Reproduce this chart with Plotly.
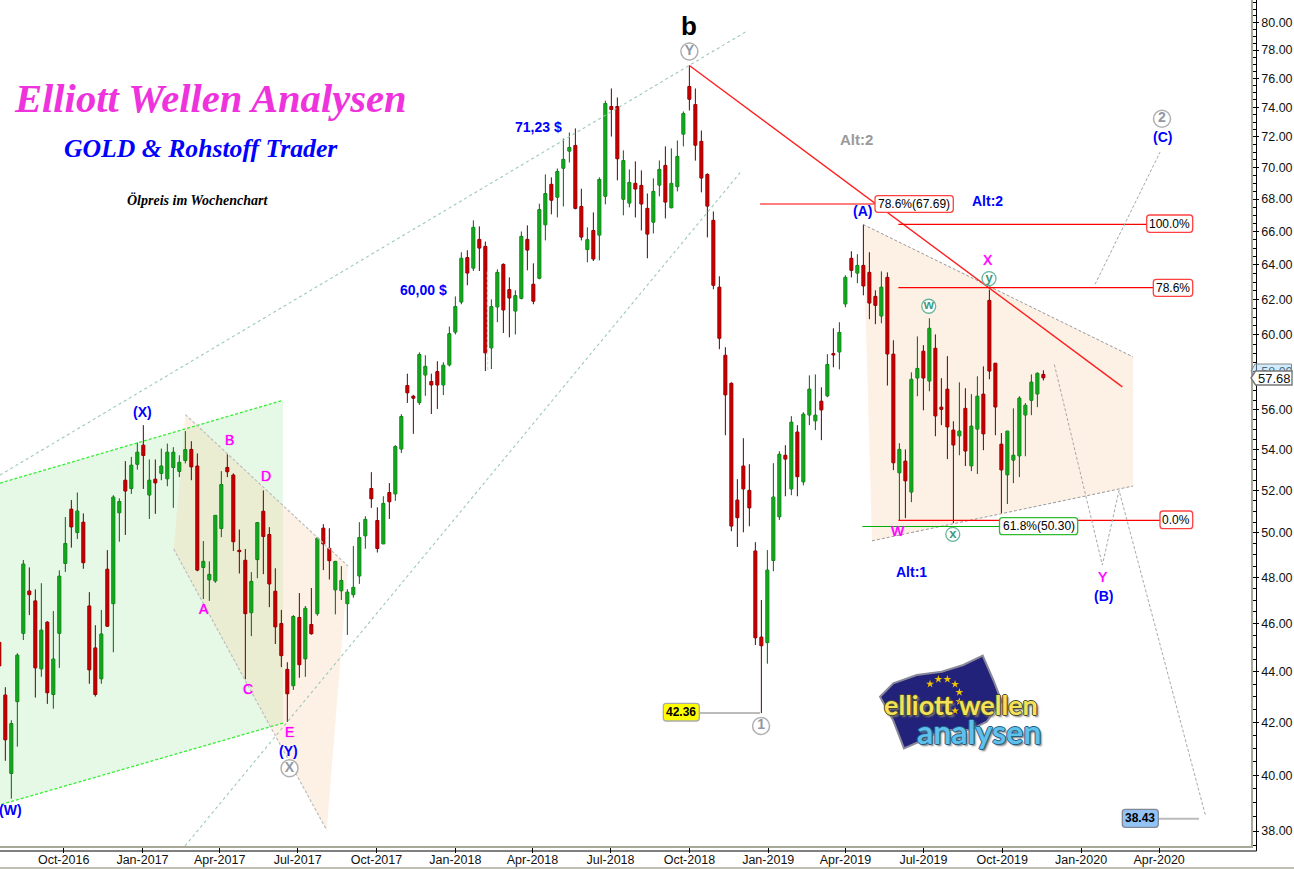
import math
import pandas as pd
import plotly.graph_objects as go

# ---------- candle data (weekly, first candle sits one week before week 0) ----------
highs = [45.52,
 43.38,42.08,44.76,48.77,48.44,47.47,47.74,46.10,46.53,48.31,
 50.74,51.54,51.90,50.91,47.35,45.93,46.58,49.22,51.77,51.62,
 53.42,53.63,54.34,55.22,53.50,53.50,54.04,54.29,54.11,53.71,
 54.92,54.41,53.80,49.63,48.71,50.83,52.93,53.76,52.82,50.16,
 49.27,48.23,50.50,52.00,50.27,48.40,46.58,44.39,46.36,47.31,
 46.75,47.53,49.82,50.41,50.22,48.73,48.50,47.48,49.40,50.50,
 50.78,52.88,51.20,51.72,52.35,54.21,55.78,57.90,56.78,59.05,
 58.89,57.90,58.57,58.51,60.47,62.17,64.75,64.87,66.68,66.31,
 65.39,62.00,63.74,64.09,63.27,62.52,66.00,66.37,64.09,67.71,
 69.56,69.37,69.94,71.90,72.30,72.57,68.65,66.25,67.17,69.37,
 74.45,75.29,74.67,71.12,69.88,70.40,69.82,68.35,69.31,70.46,
 71.38,71.25,71.77,73.71,76.90,75.29,72.43,69.63,67.23,63.33,
 59.33,57.44,52.54,54.56,53.27,49.58,47.01,49.22,53.32,53.91,
 54.21,55.68,55.22,55.88,57.81,57.86,57.18,58.95,60.37,60.71,
 63.39,64.81,64.63,66.43,64.75,62.52,63.62,63.56,59.71,54.31,
 54.00,57.97,59.92,59.44,60.93,60.03,57.66,58.84,55.42,57.44,
 57.13,56.82,57.76,58.29,62.56,58.46,54.82,54.92,56.08,56.71,
 56.35,57.86,57.97,58.08]
lows = [43.47,
 40.54,39.15,41.07,45.31,46.36,42.97,43.80,42.72,42.53,44.16,
 48.24,49.33,49.72,48.38,43.52,43.01,43.52,45.86,44.80,49.60,
 49.91,51.83,53.00,52.07,50.65,50.89,52.49,52.20,51.17,52.64,
 53.31,52.49,48.27,47.05,46.97,47.76,49.81,52.64,49.18,48.17,
 43.70,45.47,47.96,48.14,46.70,45.14,44.19,42.02,43.27,43.76,
 43.80,45.53,46.33,48.32,47.90,46.39,47.01,45.52,47.11,47.71,
 49.28,51.17,49.11,49.50,50.65,51.50,53.82,56.36,54.78,56.26,
 56.73,55.79,56.05,56.77,58.29,60.03,61.72,62.81,63.64,63.64,
 58.04,58.15,60.71,60.11,59.87,60.03,62.00,63.68,61.72,63.16,
 65.46,67.05,66.86,67.54,70.33,67.36,65.46,64.15,64.23,64.27,
 67.67,72.03,69.18,66.99,67.48,66.86,66.06,64.39,65.88,68.17,
 66.80,67.42,68.48,71.38,73.78,70.45,68.42,65.64,62.58,59.22,
 54.71,50.08,49.36,50.03,50.31,45.10,42.36,44.33,48.27,50.60,
 51.72,51.77,51.72,52.24,55.22,54.97,54.46,56.66,58.24,58.13,
 61.55,63.27,62.93,62.23,60.88,60.60,60.65,57.27,52.98,50.60,
 50.69,51.44,56.71,55.98,56.97,54.66,55.22,53.52,50.46,53.71,
 53.18,52.93,52.79,53.96,57.60,54.71,50.93,51.35,52.35,52.64,
 53.66,55.73,56.14,57.54]
body_top = [45.21,
 43.07,41.95,44.68,48.59,47.40,46.97,45.72,46.06,44.52,48.05,
 49.52,51.11,51.02,50.50,46.75,44.98,45.56,48.36,51.68,51.47,
 52.49,53.22,53.86,54.21,52.49,52.54,53.18,53.86,53.86,53.36,
 53.99,54.00,53.18,48.71,48.13,50.82,52.28,53.11,52.74,49.21,
 48.76,47.82,50.48,51.01,49.93,47.39,46.00,44.10,46.30,46.26,
 46.65,45.96,49.76,50.22,49.30,48.71,47.86,47.35,47.56,49.79,
 50.63,52.09,50.58,51.38,51.90,54.14,55.66,57.27,56.71,58.93,
 58.29,57.48,58.01,58.35,60.07,61.59,64.39,64.43,66.25,65.52,
 65.10,61.59,63.56,64.03,62.56,62.21,65.70,65.52,62.87,67.34,
 68.34,68.93,69.75,70.53,71.31,71.44,67.54,65.50,66.06,69.24,
 74.25,74.05,74.05,70.45,69.05,68.99,68.86,67.42,68.48,69.88,
 70.14,68.99,70.72,73.57,75.43,74.18,71.71,69.56,66.68,62.70,
 58.89,57.39,51.54,53.18,52.00,49.18,45.43,48.32,51.68,53.76,
 53.71,55.37,54.87,55.78,57.08,55.73,56.45,58.39,58.98,60.14,
 63.27,64.39,63.97,63.97,63.56,62.17,62.70,63.27,58.95,54.00,
 53.42,57.60,58.18,59.11,60.37,59.27,56.14,57.08,54.97,54.92,
 56.08,55.17,56.71,56.82,61.94,58.46,54.26,54.92,53.71,56.61,
 56.24,57.45,57.92,57.86]
body_bot = [44.24,
 41.33,40.07,42.81,45.59,47.24,44.16,44.12,43.16,43.09,45.59,
 48.62,50.28,50.02,48.65,44.08,43.09,43.72,45.89,46.85,50.94,
 51.97,52.09,53.27,53.70,51.78,52.36,52.82,52.56,53.11,52.92,
 53.45,53.14,48.32,48.44,47.89,47.84,50.21,52.90,49.60,49.15,
 46.42,46.46,48.79,49.84,47.71,45.86,44.66,43.12,43.44,44.29,
 44.53,45.57,46.42,49.50,48.74,47.45,47.41,46.85,47.24,48.06,
 49.87,51.60,49.29,49.50,51.46,51.83,54.02,56.89,56.61,56.38,
 57.83,57.30,57.30,57.30,58.37,60.16,61.85,63.52,63.81,65.00,
 59.02,59.29,61.57,61.40,62.08,61.34,62.06,64.88,61.90,63.22,
 66.41,67.93,68.12,69.96,71.07,67.42,65.66,64.91,64.35,65.78,
 68.18,73.85,70.57,67.99,67.75,68.63,67.69,65.84,66.57,68.88,
 67.81,67.46,68.78,72.19,74.55,71.46,69.33,67.56,62.81,59.82,
 56.78,50.32,50.71,52.07,51.17,45.40,45.07,45.20,48.75,50.75,
 53.52,52.07,52.66,52.41,55.74,55.44,56.00,56.73,58.91,59.07,
 61.74,63.68,63.52,62.77,61.79,61.66,61.06,58.96,53.34,52.85,
 52.46,51.92,57.67,57.67,57.51,55.69,56.03,55.13,54.22,54.68,
 53.92,53.19,55.02,54.78,58.04,56.15,52.99,52.75,53.47,53.68,
 55.74,56.50,56.83,57.68]
direction = ("D" "DUUUDDUDUU" "UDUDDDUDUU" "DUUDUDUUUU" "UDDUUUUDDD" "DUUDDDDDUD"
             "UDUDDUUUUU" "UDDUDUUDDU" "UDDUUUUDUD" "DUUDDUUDDU" "UDUUUDDUDU"
             "UDDUUDDDUU" "DUUUDDDDDD" "DDDDDDDUUU" "DUDUUUDUDU" "UDUDDDUDDU"
             "DUUDUDDDDU" "DUUDDDDUUU" "UUUD")

y_ticks = list(range(38, 82, 2))
y_minor = [37.5 + 0.5 * k for k in range(0, 89) if (37.5 + 0.5 * k) % 2 != 0]
x_tick_dates = ["2016-10-01", "2017-01-01", "2017-04-01", "2017-07-01", "2017-10-01", "2018-01-01",
                "2018-04-01", "2018-07-01", "2018-10-01", "2019-01-01", "2019-04-01", "2019-07-01",
                "2019-10-01", "2020-01-01", "2020-04-01"]
x_tick_text = ["Oct-2016", "Jan-2017", "Apr-2017", "Jul-2017", "Oct-2017", "Jan-2018", "Apr-2018", "Jul-2018",
               "Oct-2018", "Jan-2019", "Apr-2019", "Jul-2019", "Oct-2019", "Jan-2020", "Apr-2020"]

# ---------- drawn objects: positions as (week number, price) ----------
green_zone_w = [-0.89, 46.28, 46.28, -0.89]
green_zone_p = [52.35, 56.50, 41.97, 38.93]
peach_left_w = [30.0, 57.11, 53.56, 28.06]
peach_left_p = [55.76, 48.50, 38.03, 49.27]
peach_right_w = [142.94, 187.95, 187.95, 144.44]
peach_right_p = [66.43, 58.80, 52.21, 49.64]
channel_up_w, channel_up_p = [-0.89, 123.78], [52.74, 79.42]
channel_lo_w, channel_lo_p = [29.94, 122.45], [37.48, 69.67]
trend_w, trend_p = [114.0, 186.16], [76.9, 57.20]
fib_lines = [([125.78, 144.9], 67.69, "#FF0000"), ([148.83, 190.23], 66.43, "#FF0000"),
             ([148.83, 191.28], 62.68, "#FF0000"), ([148.83, 192.44], 50.58, "#FF0000"),
             ([142.83, 165.78], 50.30, "#00B000")]
grey_hlines = [([115.61, 125.78], 42.36), ([192.11, 198.94], 38.43)]
proj_a_w, proj_a_p = [181.61, 192.44], [62.87, 71.0]
proj_b_w, proj_b_p = [174.83, 182.83, 185.61, 200.06], [58.39, 48.55, 52.0, 38.51]
marker_w, marker_p = [80.37, 80.37], [63.6, 58.0]
star_w = [154.11, 155.5, 157.0, 158.28, 159.0, 159.0, 158.28]
star_p = [43.51, 43.70, 43.70, 43.50, 43.18, 42.81, 42.45]

blue_text = [("(X)", 22.83, 55.89), ("(W)", 0.83, 38.73), ("(Y)", 47.16, 40.92), ("(A)", 142.9, 67.23),
             ("(B)", 182.94, 47.19), ("(C)", 192.77, 71.97), ("71,23 $", 88.89, 72.64), ("60,00 $", 69.66, 62.52),
             ("Alt:2", 163.71, 67.85), ("Alt:1", 150.94, 48.23)]
magenta_text = [("A", 33.16, 46.61), ("B", 37.39, 54.46), ("C", 40.5, 43.31), ("D", 43.4, 52.67), ("E", 47.28, 41.63),
                ("X", 163.78, 64.27), ("W", 148.78, 50.08), ("Y", 182.94, 48.0)]
grey_circles = [("Y", 114.0, 77.89), ("X", 47.36, 40.26), ("1", 125.95, 41.86), ("2", 192.77, 73.22)]
green_circles = [("w", 153.89, 61.61), ("y", 163.94, 63.2), ("x", 157.9, 49.94)]
# text, frame left/right/top/bottom in page pixels, border, fill, bold
box_labels = [("78.6%(67.69)", 875, 953.3, 195.7, 212.3, "#FF4040", "#FFFFFF", False),
              ("100.0%", 1146.7, 1192.7, 215, 232.3, "#FF4040", "#FFFFFF", False),
              ("78.6%", 1153.3, 1192.7, 279.3, 296.3, "#FF4040", "#FFFFFF", False),
              ("0.0%", 1160, 1192.7, 511, 528.7, "#FF4040", "#FFFFFF", False),
              ("61.8%(50.30)", 999.5, 1077.7, 517.7, 534.7, "#30BB30", "#FFFFFF", False),
              ("42.36", 663.3, 699.3, 703.3, 721, "#AAAAAA", "#FFFF00", True),
              ("38.43", 1122.3, 1158.3, 809.3, 827.3, "#808898", "#93C2F5", True)]

# ---------- scales ----------
BASE = pd.Timestamp("2016-07-25")
FIRST_WEEK = -1
PLOT_W, PLOT_H = 1251, 846


def wk(i):
    return BASE + pd.to_timedelta(round(i * 7 * 86400), unit="s")


def ws(i):
    return wk(i).strftime("%Y-%m-%d %H:%M:%S")


def px(x):
    return x / PLOT_W


def py(y):
    return 1 - y / PLOT_H


weeks = list(range(FIRST_WEEK, FIRST_WEEK + len(highs)))
dates = [ws(i) for i in weeks]
opens = [b if d == "U" else t for d, t, b in zip(direction, body_top, body_bot)]
closes = [t if d == "U" else b for d, t, b in zip(direction, body_top, body_bot)]

fig = go.Figure()
# dark wicks and outlines
fig.add_trace(go.Candlestick(
    x=dates, open=opens, high=highs, low=lows, close=closes,
    increasing=dict(line=dict(color="#0B5E10", width=1), fillcolor="#12A01C"),
    decreasing=dict(line=dict(color="#5E0008", width=1), fillcolor="#BE0000"),
    showlegend=False, hoverinfo="skip"))
# bright body fill on top of the outlines
fig.add_trace(go.Candlestick(
    x=dates, open=opens, high=body_top, low=body_bot, close=closes,
    increasing=dict(line=dict(color="#12A01C", width=0), fillcolor="#14A31E"),
    decreasing=dict(line=dict(color="#BE0000", width=0), fillcolor="#C00000"),
    showlegend=False, hoverinfo="skip"))


def line(w, p, color, width=1.0, dash=None):
    fig.add_trace(go.Scatter(x=[ws(i) for i in w], y=p, mode="lines", showlegend=False, hoverinfo="skip",
                             line=dict(color=color, width=width, dash=dash)))


def poly_path(w, p):
    pts = [f"{wk(i).strftime('%Y-%m-%d_%H:%M:%S')},{v}" for i, v in zip(w, p)]
    return "M" + " L".join(pts) + " Z"


def page_path(points):
    return "M" + " L".join(f"{px(x)},{py(y)}" for x, y in points) + " Z"


def round_box(x0, x1, y0, y1, r=3):
    return (f"M{px(x0 + r)},{py(y0)} L{px(x1 - r)},{py(y0)} Q{px(x1)},{py(y0)} {px(x1)},{py(y0 + r)} "
            f"L{px(x1)},{py(y1 - r)} Q{px(x1)},{py(y1)} {px(x1 - r)},{py(y1)} "
            f"L{px(x0 + r)},{py(y1)} Q{px(x0)},{py(y1)} {px(x0)},{py(y1 - r)} "
            f"L{px(x0)},{py(y0 + r)} Q{px(x0)},{py(y0)} {px(x0 + r)},{py(y0)} Z")


shapes = [
    dict(type="path", path=poly_path(green_zone_w, green_zone_p), xref="x", yref="y", layer="below",
         fillcolor="#E6F9E6", line=dict(width=0)),
    dict(type="path", path=poly_path(peach_left_w, peach_left_p), xref="x", yref="y", layer="below",
         fillcolor="rgba(250,210,170,0.3)", line=dict(width=0)),
    dict(type="path", path=poly_path(peach_right_w, peach_right_p), xref="x", yref="y", layer="below",
         fillcolor="rgba(250,210,170,0.3)", line=dict(width=0)),
    # chart frame details beside the axes
    dict(type="line", xref="paper", yref="paper", x0=0, x1=px(1256.5), y0=py(851), y1=py(851),
         line=dict(color="#000000", width=1)),
    dict(type="line", xref="paper", yref="paper", x0=px(1256.5), x1=px(1256.5), y0=py(0), y1=py(851),
         line=dict(color="#000000", width=1)),
    dict(type="line", xref="paper", yref="paper", x0=0, x1=px(1294), y0=py(868), y1=py(868),
         line=dict(color="#A8A898", width=1.5)),
    # logo flag
    dict(type="path", xref="paper", yref="paper", layer="below", fillcolor="#22227A",
         line=dict(color="#8A8A9A", width=2),
         path=page_path([(880, 696.7), (893.3, 683.3), (916.7, 675), (941.7, 671.7), (963.3, 665), (982.7, 655.7),
                         (993.3, 680), (1001.7, 701.7), (986.7, 721.7), (970, 730), (943, 730), (923, 740),
                         (904, 748.3), (893, 720)])),
    # axis price tags: last close over the hidden 58.00 level
    dict(type="path", xref="paper", yref="paper", fillcolor="rgba(150,210,250,0.45)", line=dict(color="#888888", width=1),
         path=page_path([(1251, 371), (1255, 364), (1291.5, 364), (1291.5, 378), (1255, 378)])),
    dict(type="path", xref="paper", yref="paper", fillcolor="#FFFFFF", line=dict(color="#777777", width=1.4),
         path=page_path([(1251, 378), (1255.5, 371), (1292, 371), (1292, 385), (1255.5, 385)])),
]
for t, x0, x1, y0, y1, border, bg, bold in box_labels:
    shapes.append(dict(type="path", xref="paper", yref="paper", path=round_box(x0, x1, y0, y1),
                       fillcolor=bg, line=dict(color=border, width=1.3)))

# dashed edges of the shaded zones
line(green_zone_w[:2], green_zone_p[:2], "#33EE33", 1.3, "3px,2px")
line(green_zone_w[2:], green_zone_p[2:], "#33EE33", 1.3, "3px,2px")
line(peach_left_w[:2], peach_left_p[:2], "#BDBDBD", 1.2, "3px,2px")
line(peach_left_w[3:1:-1], peach_left_p[3:1:-1], "#BDBDBD", 1.2, "3px,2px")
line(peach_right_w[:2], peach_right_p[:2], "#999999", 1, "3px,2px")
line(peach_right_w[3:1:-1], peach_right_p[3:1:-1], "#999999", 1, "3px,2px")
line(channel_up_w, channel_up_p, "#9CC9B5", 1.1, "3px,3px")
line(channel_lo_w, channel_lo_p, "#9CC9B5", 1.1, "3px,3px")
line(trend_w, trend_p, "#FF2020", 1.4)
for w, p, c in fib_lines:
    line(w, [p, p], c, 1.2)
for w, p in grey_hlines:
    line(w, [p, p], "#BBBBBB", 2)
line(proj_a_w, proj_a_p, "#A8A8A8", 1, "3px,2px")
line(proj_b_w, proj_b_p, "#A8A8A8", 1, "3px,2px")
line(marker_w, marker_p, "#E2E2E2", 1.5, "3px,2px")

# circled wave labels
for items, size, lw, col, tcol, fs in [(grey_circles, 17, 1.5, "#B0B0B0", "#8F98A2", 14),
                                       (green_circles, 14, 1.3, "#66B59C", "#3F9A80", 13)]:
    fig.add_trace(go.Scatter(
        x=[ws(i[1]) for i in items], y=[i[2] for i in items], mode="markers+text",
        text=[i[0] for i in items], textposition="middle center",
        textfont=dict(family="Liberation Sans", size=fs, color=tcol, weight="bold"),
        marker=dict(size=size, color="#FFFFFF", line=dict(color=col, width=lw)),
        showlegend=False, hoverinfo="skip"))

# logo stars
fig.add_trace(go.Scatter(x=[ws(i) for i in star_w], y=star_p, mode="markers", showlegend=False, hoverinfo="skip",
                         marker=dict(symbol="star", size=6, color="#F2C200")))

ann = []


def text(t, i, p, size, color, bold=True, family="Liberation Sans", shadow=None):
    f = dict(family=family, size=size, color=color, weight="bold" if bold else "normal")
    if shadow:
        f["shadow"] = shadow
    ann.append(dict(text=t, x=ws(i), y=math.log10(p), xref="x", yref="y", showarrow=False,
                    xanchor="center", yanchor="middle", font=f))


def title(t, x, y, size, color, family="Liberation Serif", style="italic", shadow=None, bold=True):
    f = dict(family=family, size=size, color=color, style=style, weight="bold" if bold else "normal")
    if shadow:
        f["shadow"] = shadow
    ann.append(dict(text=t, x=px(x), y=py(y), xref="paper", yref="paper", showarrow=False,
                    xanchor="center", yanchor="middle", font=f))


for t, i, p in blue_text:
    text(t, i, p, 14, "#0000FF")
for t, i, p in magenta_text:
    text(t, i, p, 14, "#FF00FF", bold=False, shadow="0 0 1px #FF00FF")
text("Alt:2", 141.85, 71.86, 15, "#9A9A9A")
text("b", 113.95, 79.78, 26, "#000000")

for t, x0, x1, y0, y1, border, bg, bold in box_labels:
    ann.append(dict(text=t, x=px((x0 + x1) / 2), y=py((y0 + y1) / 2), xref="paper", yref="paper", showarrow=False,
                    xanchor="center", yanchor="middle",
                    font=dict(family="Liberation Sans", size=12, color="#000000", weight="bold" if bold else "normal")))

title("Elliott Wellen Analysen", 210.5, 98.5, 40.6, "#EE33DD")
title("GOLD &amp; Rohstoff Trader", 201, 148, 25.7, "#0000FF")
title("Ölpreis im Wochenchart", 198, 200, 14, "#000000")

ann.append(dict(text="57.68", x=px(1274), y=py(378), xref="paper", yref="paper", showarrow=False, xanchor="center",
                yanchor="middle", font=dict(family="Liberation Sans", size=13, color="#111111")))

title("elliott wellen", 961, 704, 27, "#F4E35A", family="Lato", style="normal",
      shadow="-1px 0 #4A4A2A, 1px 0 #4A4A2A, 0 1px #4A4A2A, 0 -1px #4A4A2A, 2px 2px 2px #777")
title("analysen", 979, 731, 32, "#5FC0EA", family="Lato", style="normal",
      shadow="-1px 0 #1F5F88, 1px 0 #1F5F88, 0 1px #1F5F88, 0 -1px #1F5F88, 2px 2px 2px #777")

fig.update_layout(
    width=1294, height=869, autosize=False, showlegend=False,
    margin=dict(l=0, r=43, t=0, b=23, pad=0),
    paper_bgcolor="#FFFFFF", plot_bgcolor="#FFFFFF",
    shapes=shapes, annotations=ann, hovermode=False, boxmode="overlay",
    xaxis=dict(type="date", automargin=False, range=[ws(-0.888), ws(207.6)], rangeslider=dict(visible=False),
               tickmode="array", tickvals=x_tick_dates, ticktext=x_tick_text,
               ticks="outside", ticklen=5, tickcolor="#000000", tickwidth=1, ticklabelstandoff=-4,
               showgrid=False, zeroline=False, showline=True, linecolor="#A8A898", linewidth=1.5,
               tickfont=dict(family="Liberation Sans", size=12.5, color="#111111")),
    yaxis=dict(type="log", automargin=False, side="right", range=[1.57380, 1.91211],
               tickmode="array", tickvals=y_ticks, tickformat=".2f",
               ticks="outside", ticklen=6, tickcolor="#000000", tickwidth=1,
               minor=dict(tickmode="array", tickvals=y_minor, ticks="outside", ticklen=3, tickcolor="#000000",
                          showgrid=False),
               showgrid=False, zeroline=False, showline=True, linecolor="#A8A898", linewidth=1.5,
               ticklabelstandoff=0,
               tickfont=dict(family="Liberation Sans", size=12.5, color="#111111")),
)

fig.write_html("out.html", config=dict(displayModeBar=False),
               post_script="document.body.style.margin='0';document.documentElement.style.overflow='hidden';")
